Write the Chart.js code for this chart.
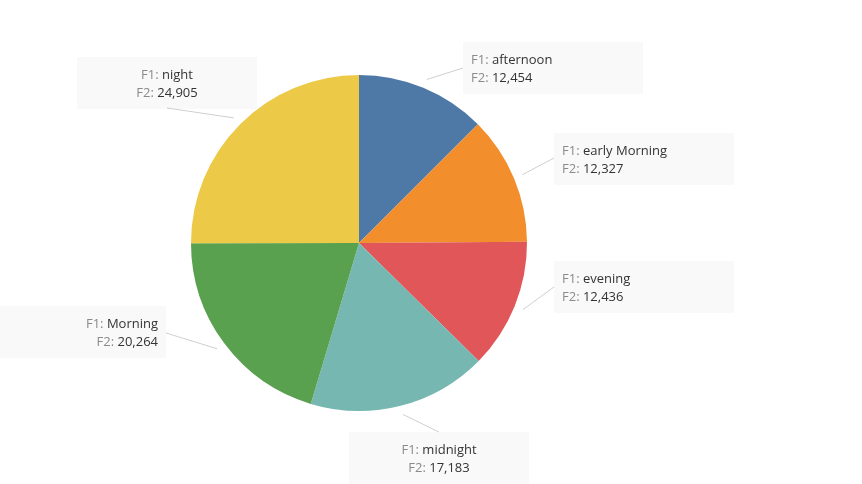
<!DOCTYPE html>
<html>
<head>
<meta charset="utf-8">
<script src="https://cdn.jsdelivr.net/npm/chart.js@4"></script>
<style>
html,body{margin:0;padding:0;background:#fff;}
#wrap{width:862px;height:484px;position:relative;}
</style>
</head>
<body>
<div id="wrap"><canvas id="c" width="862" height="484"></canvas></div>
<script>
const categories = ['afternoon', 'early Morning', 'evening', 'midnight', 'Morning', 'night'];
const f2Values = [12454, 12327, 12436, 17183, 20264, 24905];
const sliceColors = ['#4e79a7', '#f28e2b', '#e15759', '#76b7b2', '#59a14f', '#edc948'];

// annotation box layout (top-left of box, text alignment, leader-line attach point)
const labelLayout = [
  {box: [463, 42], align: 'left', attach: [463, 68]},
  {box: [554, 133], align: 'left', attach: [554, 158]},
  {box: [554, 261], align: 'left', attach: [554, 287]},
  {box: [349, 432], align: 'center', attach: [439, 432]},
  {box: [-14, 306], align: 'right', attach: [166, 333]},
  {box: [77, 57], align: 'center', attach: [167, 108]}
];
const BOX_W = 180, BOX_H = 52;
const FONT = '13px "Open Sans", sans-serif';

const fmt = v => v.toLocaleString('en-US');

const labelPlugin = {
  id: 'tabLabels',
  afterDatasetsDraw(chart) {
    const ctx = chart.ctx;
    const meta = chart.getDatasetMeta(0);
    ctx.save();
    meta.data.forEach((arc, i) => {
      const p = arc.getProps(['x', 'y', 'startAngle', 'endAngle', 'outerRadius'], true);
      const mid = (p.startAngle + p.endAngle) / 2;
      const r = p.outerRadius + 9;
      const ax = p.x + Math.cos(mid) * r;
      const ay = p.y + Math.sin(mid) * r;
      const L = labelLayout[i];
      // box
      ctx.fillStyle = '#f9f9f9';
      ctx.fillRect(L.box[0], L.box[1], BOX_W, BOX_H);
      // leader line
      ctx.strokeStyle = '#cfcfcf';
      ctx.lineWidth = 1;
      ctx.beginPath();
      ctx.moveTo(ax, ay);
      ctx.lineTo(L.attach[0], L.attach[1]);
      ctx.stroke();
      // text
      ctx.font = FONT;
      ctx.textBaseline = 'middle';
      const lines = [['F1: ', categories[i]], ['F2: ', fmt(f2Values[i])]];
      lines.forEach((ln, k) => {
        const y = L.box[1] + 18 + k * 18;
        const w1 = ctx.measureText(ln[0]).width;
        const w2 = ctx.measureText(ln[1]).width;
        let x;
        if (L.align === 'left') x = L.box[0] + 8;
        else if (L.align === 'right') x = L.box[0] + BOX_W - 8 - w1 - w2;
        else x = L.box[0] + BOX_W / 2 - (w1 + w2) / 2;
        ctx.textAlign = 'left';
        ctx.fillStyle = '#8a8a8a';
        ctx.fillText(ln[0], x, y);
        ctx.fillStyle = '#333333';
        ctx.fillText(ln[1], x + w1, y);
      });
    });
    ctx.restore();
  }
};

new Chart(document.getElementById('c'), {
  type: 'pie',
  data: {
    labels: categories,
    datasets: [{
      data: f2Values,
      backgroundColor: sliceColors,
      borderWidth: 0
    }]
  },
  options: {
    responsive: false,
    animation: false,
    layout: {padding: {left: 191, right: 335, top: 75, bottom: 73}},
    plugins: {legend: {display: false}, tooltip: {enabled: false}}
  },
  plugins: [labelPlugin]
});
</script>
</body>
</html>
